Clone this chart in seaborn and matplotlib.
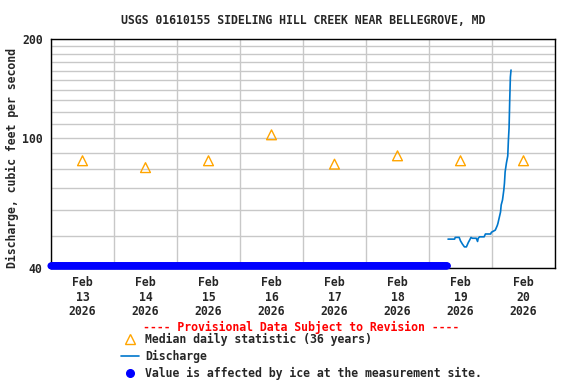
import numpy as np
import pandas as pd
import matplotlib
matplotlib.use("Agg")
import matplotlib.pyplot as plt
import matplotlib.dates as mdates
from matplotlib.lines import Line2D
from matplotlib.ticker import FixedLocator, NullFormatter
import seaborn as sns

# ---------------- data ----------------
title = "USGS 01610155 SIDELING HILL CREEK NEAR BELLEGROVE, MD"
ylabel = "Discharge, cubic feet per second"

median_days = ["2026-02-13 12:00", "2026-02-14 12:00", "2026-02-15 12:00", "2026-02-16 12:00",
               "2026-02-17 12:00", "2026-02-18 12:00", "2026-02-19 12:00", "2026-02-20 12:00"]
median_values = [85, 81, 85, 102, 83, 88, 85, 85]

q_times = ["2026-02-19 07:15", "2026-02-19 09:45", "2026-02-19 10:00", "2026-02-19 11:30",
           "2026-02-19 12:00", "2026-02-19 12:45", "2026-02-19 13:30", "2026-02-19 14:15",
           "2026-02-19 15:00", "2026-02-19 15:30", "2026-02-19 16:00", "2026-02-19 16:30",
           "2026-02-19 18:00", "2026-02-19 18:30", "2026-02-19 18:45", "2026-02-19 19:15",
           "2026-02-19 21:00", "2026-02-19 21:30", "2026-02-19 23:30", "2026-02-19 23:45",
           "2026-02-20 00:30", "2026-02-20 01:15", "2026-02-20 02:00", "2026-02-20 02:15",
           "2026-02-20 03:15", "2026-02-20 03:30", "2026-02-20 04:00", "2026-02-20 04:30",
           "2026-02-20 04:45", "2026-02-20 05:00", "2026-02-20 05:30", "2026-02-20 06:00",
           "2026-02-20 06:15", "2026-02-20 06:30", "2026-02-20 06:45", "2026-02-20 07:00",
           "2026-02-20 07:15"]
q_values = [49.0, 49.0, 49.6, 49.6, 48.4, 47.3, 46.4, 46.4,
            47.9, 48.7, 49.6, 49.3, 49.3, 48.2, 49.3, 49.8,
            49.8, 50.8, 50.8, 51.4, 51.8, 52.2, 53.9, 54.7,
            59.3, 62.3, 64.5, 69.2, 72.7, 78.6, 83.7, 87.9,
            98.3, 107.0, 130.0, 153.0, 160.8]

ice_start = "2026-02-13 00:00"
ice_end = "2026-02-19 07:00"
ice_level = 40.6

x_start = "2026-02-13 00:00"
x_end = "2026-02-21 00:00"
y_ticks = [40, 100, 200]
y_grid = [50, 60, 70, 80, 90, 110, 120, 130, 140, 150, 160, 170, 180, 190]
tick_labels = ["Feb\n13\n2026", "Feb\n14\n2026", "Feb\n15\n2026", "Feb\n16\n2026",
               "Feb\n17\n2026", "Feb\n18\n2026", "Feb\n19\n2026", "Feb\n20\n2026"]

# ---------------- style ----------------
sns.set_style("white")
plt.rcParams['font.family'] = ['DejaVu Sans Mono']
plt.rcParams['font.weight'] = 'bold'
FS = 8.3

med_df = pd.DataFrame({"t": pd.to_datetime(median_days), "v": median_values})
q_df = pd.DataFrame({"t": pd.to_datetime(q_times), "v": q_values})
ice_t = pd.date_range(ice_start, ice_end, freq="15min")
ice_df = pd.DataFrame({"t": ice_t, "v": [ice_level] * len(ice_t)})

fig = plt.figure(figsize=(5.76, 3.84), dpi=100)
ax = fig.add_axes([51 / 576, 1 - 268 / 384, (555 - 51) / 576, (268 - 39) / 384])

ax.set_yscale("log")
ax.set_ylim(40, 200)
ax.set_xlim(pd.Timestamp(x_start), pd.Timestamp(x_end))

# grid
ax.yaxis.set_major_locator(FixedLocator(y_ticks))
ax.yaxis.set_minor_locator(FixedLocator(y_grid))
ax.yaxis.set_major_formatter(matplotlib.ticker.FixedFormatter([str(v) for v in y_ticks]))
ax.yaxis.set_minor_formatter(NullFormatter())
mid_ticks = pd.to_datetime(median_days)
ax.xaxis.set_major_locator(FixedLocator(mdates.date2num(mid_ticks)))
ax.xaxis.set_major_formatter(matplotlib.ticker.FixedFormatter(tick_labels))
ax.xaxis.set_minor_locator(mdates.DayLocator())
ax.grid(which="both", axis="y", color="#c8c8c8", lw=1.0)
ax.grid(which="minor", axis="x", color="#c8c8c8", lw=1.0)
ax.grid(which="major", axis="x", visible=False)
ax.set_axisbelow(True)

ax.tick_params(which="both", length=0)
ax.tick_params(axis="y", pad=6, labelsize=FS)
ax.tick_params(axis="x", pad=6, labelsize=FS)
for lab in ax.get_xticklabels():
    lab.set_linespacing(1.12)
    lab.set_fontweight('bold')
for lab in ax.get_yticklabels():
    lab.set_fontweight('bold')

for s in ax.spines.values():
    s.set_color("black")
    s.set_linewidth(1.0)

# data
sns.scatterplot(data=ice_df, x="t", y="v", ax=ax, color="#0000ff", s=26,
                edgecolor="none", linewidth=0, clip_on=False, zorder=3, legend=False)
sns.lineplot(data=q_df, x="t", y="v", ax=ax, color="#0077cc", lw=1.2, zorder=4, legend=False)
sns.scatterplot(data=med_df, x="t", y="v", ax=ax, marker="^", s=50,
                facecolor="none", edgecolor="#ffa500", linewidth=1.0, zorder=5, legend=False)

ax.set_xlabel("")
ax.set_ylabel("")

fig.text(303 / 576, 1 - 20 / 384, title, ha="center", va="center", fontsize=FS, fontweight="bold")
fig.text(12 / 576, 1 - 158 / 384, ylabel, ha="center", va="center", rotation=90,
         fontsize=FS, fontweight="bold")
fig.text(301 / 576, 1 - 327 / 384, "---- Provisional Data Subject to Revision ----",
         ha="center", va="center", fontsize=FS, fontweight="bold", color="red")

handles = [
    Line2D([], [], ls="none", marker="^", markersize=7, markerfacecolor="none",
           markeredgecolor="#ffa500", markeredgewidth=1.0),
    Line2D([], [], color="#0077cc", lw=1.2),
    Line2D([], [], ls="none", marker="o", markersize=5.5, color="#0000ff"),
]
labels = ["Median daily statistic (36 years)", "Discharge",
          "Value is affected by ice at the measurement site."]
leg = fig.legend(handles, labels, loc="upper left", bbox_to_anchor=(121 / 576, 1 - 333 / 384),
                 frameon=False, fontsize=FS, borderpad=0, borderaxespad=0,
                 handlelength=1.55, handletextpad=0.55, labelspacing=0.32,
                 prop={"weight": "bold", "size": FS})

fig.savefig("out.png", dpi=100)
